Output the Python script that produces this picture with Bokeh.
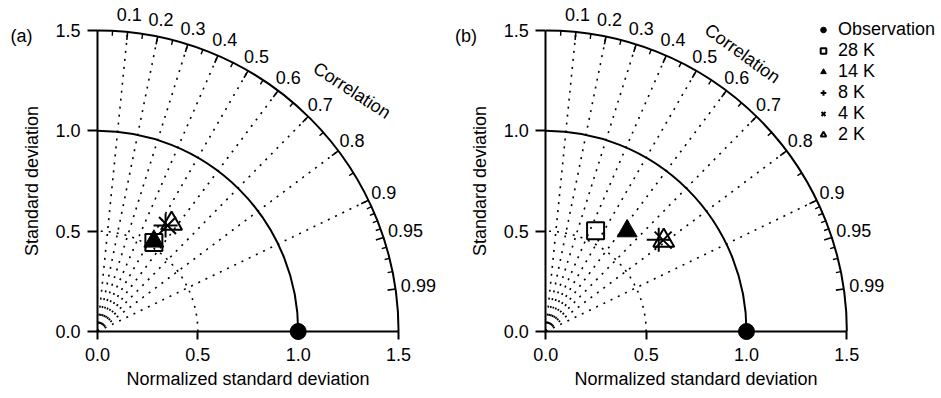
import numpy as np
from bokeh.plotting import figure
from bokeh.models import (LinearAxis, FixedTicker, PrintfTickFormatter, ColumnDataSource,
                          Legend, LegendItem, Label, Range1d)
from bokeh.layouts import row
from bokeh.embed import file_html
from bokeh.resources import INLINE
from bokeh.core.properties import value

FONT = "Liberation Sans"
FS = "18px"

# ---------------- data: (normalized standard deviation, correlation) ----------------
series_names = ["28 K", "14 K", "8 K", "4 K", "2 K"]
obs_std = [1.0]
obs_corr = [1.0]

std_a = [0.525, 0.530, 0.628, 0.633, 0.652]
corr_a = [0.535, 0.530, 0.540, 0.551, 0.566]

std_b = [0.560, 0.644, 0.725, 0.741, 0.742]
corr_b = [0.443, 0.629, 0.776, 0.789, 0.792]

std_ticks = [0.0, 0.5, 1.0, 1.5]
corr_label_vals = [0.1, 0.2, 0.3, 0.4, 0.5, 0.6, 0.7, 0.8, 0.9, 0.95, 0.99]
corr_label_text = ["0.1", "0.2", "0.3", "0.4", "0.5", "0.6", "0.7", "0.8", "0.9", "0.95", "0.99"]
corr_minor_vals = [0.05, 0.15, 0.25, 0.35, 0.45, 0.55, 0.65, 0.75, 0.85,
                   0.91, 0.92, 0.93, 0.94, 0.96, 0.97, 0.98]
corr_grid_vals = [0.1, 0.2, 0.3, 0.4, 0.5, 0.6, 0.7, 0.8, 0.9]
std_max = 1.5
solid_arc_radii = [1.0, 1.5]
dotted_arc_radii = [0.5]

# ---------------- styling ----------------
PX_PER_UNIT = 200.7
H = 395
Y_END = 331 / PX_PER_UNIT
Y_START = Y_END - H / PX_PER_UNIT

marker_specs = [
    dict(marker="square", size=17, fill_color=None, line_color="black", line_width=2),
    dict(marker="triangle", size=20, fill_color="black", line_color="black", line_width=1),
    dict(marker="cross", size=24, fill_color=None, line_color="black", line_width=2),
    dict(marker="x", size=24, fill_color=None, line_color="black", line_width=2),
    dict(marker="triangle", size=21, fill_color=None, line_color="black", line_width=2),
]


def to_xy(std, corr):
    std = np.asarray(std, dtype=float)
    corr = np.asarray(corr, dtype=float)
    return std * corr, std * np.sqrt(1.0 - corr ** 2)


def make_panel(std, corr, x_start, width, tag, tag_xy, title_xy, title_angle, with_legend):
    x_end = x_start + width / PX_PER_UNIT
    p = figure(width=width, height=H, output_backend="svg", toolbar_location=None,
               x_range=Range1d(x_start, x_end), y_range=Range1d(Y_START, Y_END),
               x_axis_location=None, y_axis_location=None, min_border=0)
    p.outline_line_color = None
    p.xgrid.visible = False
    p.ygrid.visible = False
    p.background_fill_color = "white"

    # dotted correlation rays
    cg = np.array(corr_grid_vals)
    sg = np.sqrt(1 - cg ** 2)
    p.segment(x0=np.zeros_like(cg), y0=np.zeros_like(cg), x1=std_max * cg, y1=std_max * sg,
              line_color="black", line_width=1.6, line_dash="2 6")
    # dotted std arc
    for r in dotted_arc_radii:
        p.arc(x=0, y=0, radius=r, start_angle=0, end_angle=np.pi / 2,
              line_color="black", line_width=1.6, line_dash="2 6")
    # solid std arcs
    for r in solid_arc_radii:
        p.arc(x=0, y=0, radius=r, start_angle=0, end_angle=np.pi / 2,
              line_color="black", line_width=2)

    # ticks on the outer arc
    cm = np.array(corr_label_vals)
    sm = np.sqrt(1 - cm ** 2)
    p.segment(x0=std_max * cm, y0=std_max * sm, x1=(std_max - 0.04) * cm, y1=(std_max - 0.04) * sm,
              line_color="black", line_width=1.6)
    cn = np.array(corr_minor_vals)
    sn = np.sqrt(1 - cn ** 2)
    p.segment(x0=std_max * cn, y0=std_max * sn, x1=(std_max - 0.025) * cn, y1=(std_max - 0.025) * sn,
              line_color="black", line_width=1.4)
    # correlation labels
    rlab = np.array([1.585 if len(t) == 3 else 1.615 for t in corr_label_text])
    src = ColumnDataSource(dict(x=rlab * cm, y=rlab * sm, t=corr_label_text))
    p.text(x="x", y="y", text="t", source=src, text_font=value(FONT), text_font_size=FS,
           text_align="center", text_baseline="middle", text_color="black")
    p.add_layout(Label(x=title_xy[0], y=title_xy[1], text="Correlation", angle=title_angle,
                       angle_units="deg", text_font=FONT, text_font_size=FS, text_color="black",
                       text_align="center", text_baseline="middle"))

    # axes
    yax = LinearAxis(fixed_location=0, bounds=(0, std_max), ticker=FixedTicker(ticks=std_ticks),
                     formatter=PrintfTickFormatter(format="%.1f"),
                     axis_label="Standard deviation")
    xax = LinearAxis(fixed_location=0, bounds=(0, std_max), ticker=FixedTicker(ticks=std_ticks),
                     formatter=PrintfTickFormatter(format="%.1f"),
                     axis_label="Normalized standard deviation")
    for ax, tout, lstand, astand in ((yax, 10, 7, 10), (xax, 8, 8, 5)):
        ax.axis_line_width = 2
        ax.axis_line_color = "black"
        ax.major_tick_line_width = 2
        ax.major_tick_line_color = "black"
        ax.major_tick_out = tout
        ax.major_tick_in = 0
        ax.minor_tick_out = 0
        ax.minor_tick_in = 0
        ax.major_label_text_font = FONT
        ax.major_label_text_font_size = FS
        ax.major_label_text_color = "black"
        ax.major_label_standoff = lstand
        ax.axis_label_text_font = FONT
        ax.axis_label_text_font_size = FS
        ax.axis_label_text_font_style = "normal"
        ax.axis_label_text_color = "black"
        ax.axis_label_standoff = astand
    p.add_layout(yax, "left")
    p.add_layout(xax, "below")

    # data markers
    ox, oy = to_xy(obs_std, obs_corr)
    r_obs = p.scatter(x=ox, y=oy, marker="circle", size=16, fill_color="black", line_color="black")
    mx, my = to_xy(std, corr)
    rends = []
    for i, spec in enumerate(marker_specs):
        r = p.scatter(x=[mx[i]], y=[my[i]], **spec)
        rends.append(r)

    p.add_layout(Label(x=tag_xy[0], y=tag_xy[1], text=tag, text_font=FONT, text_font_size=FS,
                       text_color="black", text_align="center", text_baseline="middle"))

    if with_legend:
        items = [LegendItem(label="Observation", renderers=[r_obs])]
        for name, r in zip(series_names, rends):
            items.append(LegendItem(label=name, renderers=[r]))
        leg = Legend(items=items, location=(358, 245), padding=5, spacing=0, margin=0,
                     glyph_width=14, glyph_height=21, label_height=21, label_standoff=8,
                     label_text_font=FONT, label_text_font_size=FS, label_text_color="black",
                     border_line_alpha=0, background_fill_alpha=0)
        p.add_layout(leg)
    return p


XA = -97 / PX_PER_UNIT
XB = -(545.3 - 453) / PX_PER_UNIT
TAG_Y = (331 - 35) / PX_PER_UNIT
pa = make_panel(std_a, corr_a, XA, 453, "(a)", (XA + 21 / PX_PER_UNIT, TAG_Y),
                (1.268, 1.201), -33, False)
pb = make_panel(std_b, corr_b, XB, 488, "(b)", (XB + 12.5 / PX_PER_UNIT, TAG_Y),
                (0.980, 1.385), -36, True)

layout = row(pa, pb, spacing=0)
open("out.html", "w").write(file_html(layout, INLINE))
